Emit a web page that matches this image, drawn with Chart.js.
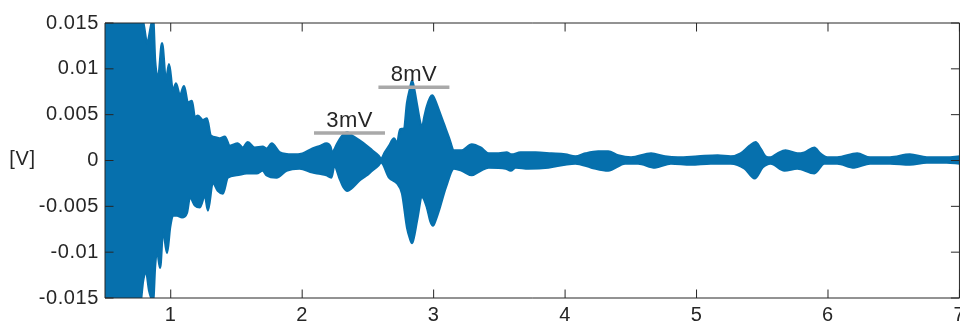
<!DOCTYPE html>
<html>
<head>
<meta charset="utf-8">
<script src="https://cdn.jsdelivr.net/npm/chart.js@4/dist/chart.umd.min.js"></script>
<style>
  html, body { margin: 0; padding: 0; background: #fff; overflow: hidden; }
  #wrap { position: relative; width: 970px; height: 327px; }
</style>
</head>
<body>
<div id="wrap"><canvas id="c" width="970" height="327"></canvas></div>
<script>
// Upper envelope of the recorded signal: time [s] and voltage [V]
const upperTime = [0.5, 0.65, 0.78, 0.798, 0.82, 0.866, 0.881, 0.904, 0.934, 0.964, 0.987, 1.017, 1.04, 1.07, 1.101, 1.131, 1.161, 1.184, 1.207, 1.245, 1.275, 1.305, 1.351, 1.374, 1.411, 1.449, 1.51, 1.548, 1.586, 1.639, 1.7, 1.73, 1.768, 1.828, 1.927, 2.002, 2.078, 2.14, 2.184, 2.215, 2.229, 2.245, 2.267, 2.305, 2.343, 2.381, 2.434, 2.487, 2.532, 2.578, 2.601, 2.63, 2.661, 2.699, 2.722, 2.745, 2.775, 2.798, 2.82, 2.836, 2.852, 2.874, 2.9, 2.911, 2.93, 2.949, 2.975, 2.99, 3.01, 3.04, 3.08, 3.116, 3.154, 3.214, 3.29, 3.358, 3.419, 3.495, 3.555, 3.593, 3.661, 3.775, 3.896, 4.002, 4.078, 4.154, 4.252, 4.328, 4.404, 4.502, 4.654, 4.76, 4.858, 5.01, 5.161, 5.26, 5.335, 5.404, 5.449, 5.487, 5.525, 5.563, 5.616, 5.677, 5.767, 5.82, 5.896, 5.941, 5.995, 6.07, 6.222, 6.32, 6.472, 6.623, 6.752, 6.903, 7.0];
const upperVolts = [0.02, 0.019, 0.016, 0.0145, 0.0128, 0.0155, 0.0109, 0.00905, 0.0128, 0.0087, 0.0105, 0.0076, 0.0084, 0.0071, 0.0081, 0.0063, 0.0065, 0.0047, 0.0049, 0.0044, 0.0046, 0.0027, 0.0025, 0.0024, 0.0026, 0.0016, 0.00185, 0.0014, 0.002, 0.0014, 0.0015, 0.0013, 0.00185, 0.0009, 0.00065, 0.00076, 0.0013, 0.0016, 0.00185, 0.0015, 0.0008, 0.0012, 0.00185, 0.0027, 0.00305, 0.0027, 0.0022, 0.00165, 0.0011, 0.00055, 0.00022, 0.0009, 0.0016, 0.0024, 0.00185, 0.0034, 0.0035, 0.0063, 0.0078, 0.0087, 0.0078, 0.006, 0.004, 0.0036, 0.0048, 0.0059, 0.0069, 0.0071, 0.0066, 0.00545, 0.0039, 0.0025, 0.0011, 0.0011, 0.00175, 0.0014, 0.00076, 0.00076, 0.00087, 0.00065, 0.00087, 0.00087, 0.00076, 0.00065, 0.00044, 0.00076, 0.00098, 0.00098, 0.00055, 0.00033, 0.00076, 0.00044, 0.00033, 0.00044, 0.00055, 0.00044, 0.00076, 0.0016, 0.002, 0.0013, 0.00044, 0.00033, 0.00076, 0.0011, 0.00076, 0.00087, 0.0014, 0.00076, 0.00033, 0.00033, 0.00076, 0.00033, 0.00033, 0.00065, 0.00033, 0.00033, 0.00044];

// Lower envelope of the recorded signal
const lowerTime = [0.5, 0.65, 0.767, 0.79, 0.813, 0.836, 0.866, 0.881, 0.896, 0.919, 0.942, 0.972, 0.995, 1.017, 1.048, 1.086, 1.123, 1.146, 1.184, 1.222, 1.26, 1.283, 1.32, 1.358, 1.396, 1.434, 1.502, 1.578, 1.654, 1.699, 1.73, 1.805, 1.881, 1.98, 2.078, 2.14, 2.184, 2.222, 2.245, 2.282, 2.312, 2.343, 2.373, 2.434, 2.487, 2.532, 2.578, 2.601, 2.661, 2.722, 2.76, 2.798, 2.82, 2.836, 2.852, 2.874, 2.911, 2.949, 2.975, 2.995, 3.015, 3.04, 3.093, 3.154, 3.214, 3.29, 3.358, 3.419, 3.548, 3.586, 3.624, 3.722, 3.873, 4.002, 4.078, 4.199, 4.328, 4.457, 4.555, 4.684, 4.805, 4.957, 5.108, 5.26, 5.366, 5.442, 5.502, 5.563, 5.669, 5.767, 5.896, 5.972, 6.07, 6.199, 6.32, 6.472, 6.623, 6.752, 6.903, 7.0];
const lowerVolts = [-0.02, -0.019, -0.016, -0.0131, -0.0122, -0.0142, -0.0153, -0.0115, -0.0098, -0.0117, -0.0076, -0.0101, -0.0073, -0.006, -0.006, -0.0062, -0.0057, -0.004, -0.0049, -0.0051, -0.0038, -0.00545, -0.0024, -0.0033, -0.0036, -0.00185, -0.0016, -0.0014, -0.0014, -0.0011, -0.0016, -0.00185, -0.0011, -0.00087, -0.0013, -0.00145, -0.0016, -0.00185, -0.00055, -0.00185, -0.00285, -0.0033, -0.00305, -0.0022, -0.00165, -0.0011, -0.00055, -0.00022, -0.00185, -0.0025, -0.0036, -0.0073, -0.0085, -0.009, -0.0082, -0.0065, -0.004, -0.0051, -0.0066, -0.0071, -0.0065, -0.00545, -0.0029, -0.00087, -0.0011, -0.0016, -0.0011, -0.00076, -0.00087, -0.0011, -0.00076, -0.00087, -0.00076, -0.00044, -0.00033, -0.00076, -0.0011, -0.00033, -0.00033, -0.00076, -0.00033, -0.00044, -0.00033, -0.00033, -0.00087, -0.00195, -0.00076, -0.00033, -0.0011, -0.00087, -0.0014, -0.00033, -0.00033, -0.00076, -0.00033, -0.00033, -0.00044, -0.00022, -0.00022, -0.00033];

// Axis ticks
const xTicks = [1, 2, 3, 4, 5, 6, 7];
const yTicks = [-0.015, -0.01, -0.005, 0, 0.005, 0.01, 0.015];
const yTickLabels = ['-0.015', '-0.01', '-0.005', '0', '0.005', '0.01', '0.015'];

// Amplitude markers above the two echoes
const markerLevels = [0.003, 0.008];
const markerStart = [2.09, 2.58];
const markerEnd = [2.63, 3.12];
const markerNames = markerLevels.map(v => Math.round(v * 1000) + 'mV');

const SIGNAL = '#0670ad';
const MARKER = '#a9a9a9';
const INK = '#262626';
const FONT = '"Liberation Sans", Arial, Helvetica, sans-serif';

const pts = (xs, ys) => xs.map((x, i) => ({ x, y: ys[i] }));

const datasets = [
  {
    data: pts(upperTime, upperVolts),
    borderColor: SIGNAL, backgroundColor: SIGNAL, borderWidth: 2.4,
    pointRadius: 0, fill: '+1', order: 2, clip: 0
  },
  {
    data: pts(lowerTime, lowerVolts),
    borderColor: SIGNAL, backgroundColor: SIGNAL, borderWidth: 2.4,
    pointRadius: 0, fill: false, order: 2, clip: 0
  }
];
markerLevels.forEach((v, i) => {
  datasets.push({
    data: [{ x: markerStart[i], y: v }, { x: markerEnd[i], y: v }],
    borderColor: MARKER, borderWidth: 3.5, pointRadius: 0, fill: false, order: 1,
    cubicInterpolationMode: 'default', markerName: markerNames[i]
  });
});

// Slightly wider glyph spacing for the tick labels
const textSpacing = {
  id: 'textSpacing',
  beforeDraw(chart) { chart.ctx.letterSpacing = '0.6px'; }
};

// Box around the axes with inward tick marks, the unit label and marker texts
const axesBox = {
  id: 'axesBox',
  afterDatasetsDraw(chart) {
    const { ctx, chartArea: a, scales } = chart;
    const xs = scales.x, ys = scales.y;
    const tl = 8.5;
    ctx.save();
    ctx.strokeStyle = INK;
    ctx.lineWidth = 1;
    ctx.beginPath();
    ctx.rect(a.left, a.top, a.right - a.left, a.bottom - a.top);
    xTicks.forEach(t => {
      const p = xs.getPixelForValue(t);
      ctx.moveTo(p, a.bottom); ctx.lineTo(p, a.bottom - tl);
      ctx.moveTo(p, a.top); ctx.lineTo(p, a.top + tl);
    });
    yTicks.forEach(v => {
      const p = ys.getPixelForValue(v);
      ctx.moveTo(a.left, p); ctx.lineTo(a.left + tl, p);
      ctx.moveTo(a.right, p); ctx.lineTo(a.right - tl, p);
    });
    ctx.stroke();

    ctx.fillStyle = INK;
    ctx.letterSpacing = '0.6px';
    ctx.font = '20px ' + FONT;
    ctx.textAlign = 'center';
    ctx.textBaseline = 'middle';
    ctx.fillText('[V]', 22.5, ys.getPixelForValue(0) - 1);

    ctx.letterSpacing = '0.4px';
    ctx.font = '22px ' + FONT;
    ctx.textBaseline = 'alphabetic';
    chart.data.datasets.forEach(ds => {
      if (!ds.markerName) return;
      const x0 = xs.getPixelForValue(ds.data[0].x);
      const x1 = xs.getPixelForValue(ds.data[1].x);
      const y = ys.getPixelForValue(ds.data[0].y);
      ctx.fillText(ds.markerName, (x0 + x1) / 2, y - 6);
    });
    ctx.restore();
  }
};

new Chart(document.getElementById('c'), {
  type: 'line',
  data: { datasets },
  options: {
    responsive: false,
    animation: false,
    devicePixelRatio: 1,
    parsing: false,
    layout: { padding: { top: 23, right: 7, left: 0, bottom: 0 }, autoPadding: false },
    plugins: { legend: { display: false }, tooltip: { enabled: false } },
    elements: { line: { cubicInterpolationMode: 'monotone' } },
    scales: {
      x: {
        type: 'linear', min: 0.5, max: 7,
        grid: { display: false, drawTicks: false },
        border: { display: false },
        ticks: { color: INK, font: { family: FONT, size: 20 }, padding: 5, maxRotation: 0, autoSkip: false },
        afterBuildTicks(s) { s.ticks = xTicks.map(v => ({ value: v })); },
        afterFit(s) { s.height = 29; }
      },
      y: {
        type: 'linear', min: -0.015, max: 0.015,
        grid: { display: false, drawTicks: false },
        border: { display: false },
        ticks: {
          color: INK, font: { family: FONT, size: 20 }, padding: 6,
          callback: (v, i) => yTickLabels[i]
        },
        afterBuildTicks(s) { s.ticks = yTicks.map(v => ({ value: v })); },
        afterFit(s) { s.width = 105; }
      }
    }
  },
  plugins: [textSpacing, axesBox]
});
</script>
</body>
</html>
